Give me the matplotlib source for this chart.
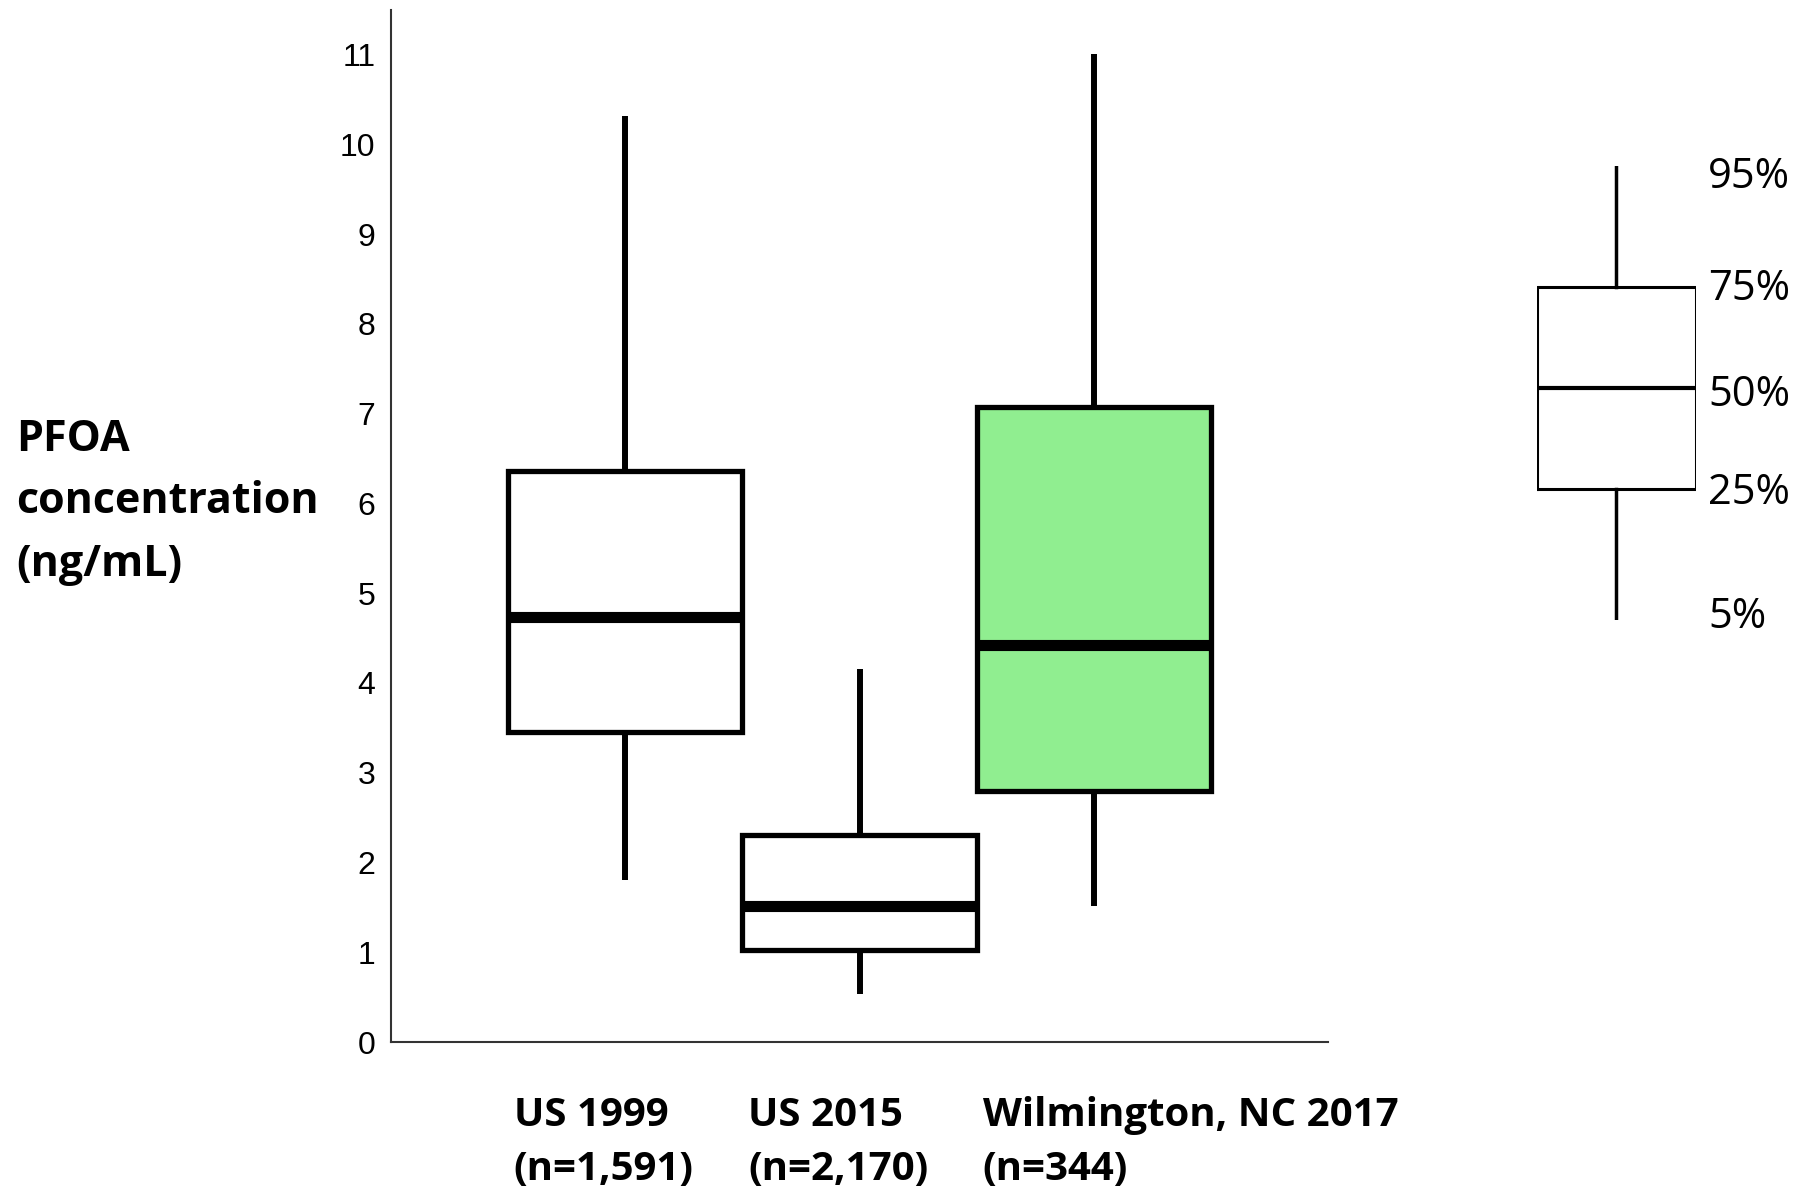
import matplotlib.pyplot as plt
from matplotlib.transforms import blended_transform_factory

# percentile summaries (ng/mL): 5th, 25th, 50th, 75th, 95th
groups = ["US 1999\n(n=1,591)", "US 2015\n(n=2,170)", "Wilmington, NC 2017\n(n=344)"]
p05 = [1.80, 0.54, 1.52]
p25 = [3.45, 1.02, 2.80]
p50 = [4.73, 1.51, 4.42]
p75 = [6.36, 2.31, 7.07]
p95 = [10.32, 4.16, 11.01]
fills = ["white", "white", "#90EE90"]

yticks = list(range(0, 12))

# schematic key box (relative units)
key_vals = [0.0, 0.289, 0.511, 0.733, 1.0]
key_labels = ["5%", "25%", "50%", "75%", "95%"]
key_label_y = [0.008, 0.281, 0.496, 0.729, 0.977]

fig = plt.figure(figsize=(18, 11.95), dpi=100)
ax = fig.add_axes([0.217, 0.128, 0.521, 0.864])

stats = []
for i in range(len(groups)):
    stats.append({"whislo": p05[i], "q1": p25[i], "med": p50[i],
                  "q3": p75[i], "whishi": p95[i], "fliers": []})

bp = ax.bxp(stats, positions=[1, 2, 3], widths=1.0, showcaps=False,
            showfliers=False, patch_artist=True,
            boxprops=dict(linewidth=3.8, edgecolor="black"),
            whiskerprops=dict(linewidth=4.3, color="black"),
            medianprops=dict(linewidth=8, color="black"))
for patch, c in zip(bp["boxes"], fills):
    patch.set_facecolor(c)
for w in bp["whiskers"]:
    w.set_solid_capstyle("butt")

ax.set_xlim(0.0, 4.0)
ax.set_ylim(0, 11.5)
ax.set_yticks(yticks)
ax.set_yticklabels([str(t) for t in yticks], fontsize=23, family="Liberation Sans")
ax.tick_params(axis="y", length=0, pad=11)
ax.set_xticks([])
for s in ["top", "right"]:
    ax.spines[s].set_visible(False)
for s in ["left", "bottom"]:
    ax.spines[s].set_color("#333333")
    ax.spines[s].set_linewidth(1.5)

trans = blended_transform_factory(ax.transData, fig.transFigure)
for i, g in enumerate(groups):
    ax.text(i + 0.525, 0.044, g, transform=trans, ha="left", va="center",
            fontsize=29, fontweight="bold", family="Open Sans",
            linespacing=1.5)

fig.text(0.009, 0.58, "PFOA\nconcentration\n(ng/mL)", ha="left", va="center",
         fontsize=31, fontweight="bold", family="Open Sans", linespacing=1.58)

# key explaining the box parts
kax = fig.add_axes([0.854, 0.481, 0.088, 0.380])
kax.bxp([{"whislo": key_vals[0], "q1": key_vals[1], "med": key_vals[2],
          "q3": key_vals[3], "whishi": key_vals[4], "fliers": []}],
        positions=[0.5], widths=1.0, showcaps=False, showfliers=False,
        boxprops=dict(linewidth=2.2, color="black"),
        whiskerprops=dict(linewidth=2.5, color="black"),
        medianprops=dict(linewidth=3.0, color="black"))
kax.set_xlim(0, 1)
kax.set_ylim(0, 1)
kax.axis("off")
for v, lab in zip(key_label_y, key_labels):
    kax.text(1.08, v, lab, ha="left", va="center", fontsize=30,
             family="Open Sans", transform=kax.transAxes)

fig.savefig("out.png", dpi=100)
